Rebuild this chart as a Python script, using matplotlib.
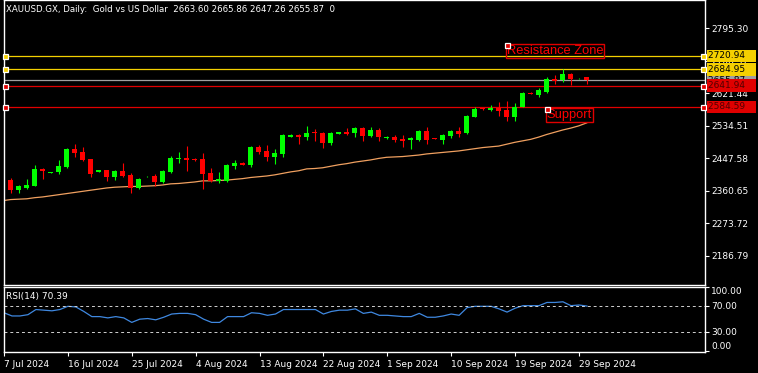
import matplotlib.pyplot as plt
import numpy as np

# daily bars, 7 Jul 2024 .. 30 Sep 2024 (Sunday bars included)
opens = [2387, 2389, 2363, 2369, 2374, 2419, 2409, 2411, 2425, 2472,
         2463, 2446, 2410, 2416, 2398, 2413, 2403, 2367, 2399, 2400,
         2384, 2411, 2445, 2449, 2446, 2445, 2409, 2387, 2387, 2427,
         2436, 2430, 2478, 2467, 2452, 2460, 2505, 2510, 2505, 2517,
         2516, 2489, 2513, 2518, 2516, 2528, 2507, 2523, 2502, 2505,
         2500, 2496, 2496, 2520, 2501, 2496, 2507, 2521, 2514, 2559,
         2581, 2577, 2583, 2577, 2557, 2585, 2623, 2617, 2625, 2659,
         2657, 2673, 2661, 2663.60]
highs = [2392, 2395, 2376, 2391, 2429, 2421, 2412, 2443, 2474, 2486,
         2477, 2446, 2416, 2416, 2416, 2436, 2407, 2395, 2401, 2406,
         2416, 2453, 2463, 2480, 2448, 2462, 2421, 2412, 2432, 2443,
         2437, 2480, 2482, 2483, 2471, 2512, 2511, 2512, 2534, 2525,
         2518, 2518, 2518, 2529, 2532, 2530, 2530, 2528, 2506, 2510,
         2510, 2503, 2523, 2532, 2502, 2512, 2523, 2532, 2562, 2585,
         2582, 2589, 2599, 2600, 2594, 2625, 2624, 2636, 2665, 2670,
         2685, 2675, 2663, 2665.86]
lows = [2385, 2354, 2354, 2364, 2374, 2393, 2409, 2405, 2422, 2452,
        2441, 2396, 2410, 2387, 2390, 2398, 2355, 2364, 2398, 2373,
        2380, 2407, 2434, 2413, 2441, 2366, 2384, 2382, 2385, 2419,
        2429, 2425, 2458, 2441, 2432, 2452, 2504, 2486, 2496, 2494,
        2474, 2484, 2512, 2509, 2505, 2494, 2505, 2494, 2500, 2491,
        2477, 2473, 2494, 2486, 2498, 2486, 2501, 2503, 2512, 2557,
        2577, 2575, 2560, 2548, 2548, 2584, 2618, 2612, 2623, 2646,
        2652, 2643, 2660, 2647.26]
closes = [2391, 2363, 2372, 2376, 2418, 2414, 2412, 2427, 2472, 2461,
          2443, 2405, 2416, 2398, 2413, 2401, 2367, 2392, 2400, 2383,
          2413, 2449, 2447, 2443, 2443, 2405, 2387, 2391, 2430, 2436,
          2430, 2478, 2464, 2452, 2462, 2510, 2510, 2505, 2516, 2514,
          2489, 2516, 2518, 2513, 2528, 2507, 2523, 2505, 2505, 2496,
          2494, 2501, 2520, 2496, 2498, 2510, 2520, 2512, 2560, 2578,
          2578, 2581, 2574, 2557, 2585, 2621, 2619, 2630, 2659, 2653,
          2673, 2659, 2662, 2655.87]
ma = [2334, 2337, 2338, 2339, 2342, 2344, 2347, 2350, 2353, 2356,
      2359, 2362, 2365, 2368, 2370, 2371, 2372, 2372, 2373, 2374,
      2376, 2379, 2380, 2382, 2384, 2387, 2387, 2388, 2389, 2391,
      2393, 2396, 2398, 2400, 2403, 2407, 2411, 2414, 2419, 2420,
      2422, 2426, 2430, 2433, 2437, 2440, 2443, 2447, 2450, 2451,
      2452, 2454, 2456, 2459, 2461, 2463, 2465, 2467, 2470, 2473,
      2476, 2478, 2480, 2485, 2490, 2494, 2498, 2504, 2511, 2517,
      2523, 2528, 2534, 2542]
rsi = [60, 55, 55, 57, 65, 64, 63, 65, 70, 69,
       62, 54, 54, 52, 54, 52, 45, 50, 51, 49,
       53, 58, 59, 59, 57, 50, 45, 45, 54, 54,
       54, 60, 59, 56, 58, 65, 65, 65, 65, 65,
       58, 62, 64, 64, 66, 59, 61, 56, 56, 55,
       54, 54, 59, 53, 53, 55, 58, 56, 68, 70,
       70, 70, 66, 61, 67, 71, 71, 71, 76, 76,
       77, 71, 72, 70.39]

date_labels = ['7 Jul 2024', '16 Jul 2024', '25 Jul 2024', '4 Aug 2024', '13 Aug 2024',
               '22 Aug 2024', '1 Sep 2024', '10 Sep 2024', '19 Sep 2024', '29 Sep 2024']
price_ticks = [2186.79, 2273.72, 2360.65, 2447.58, 2534.51, 2621.44, 2708.37, 2795.30]
rsi_ticks = [0, 30, 70, 100]

resistance = [2720.94, 2684.95]
support = [2641.94, 2584.59]
bid = 2655.87

GREEN = '#00ff00'
RED = '#ff0000'
LINE_RED = '#e00000'
YELLOW = '#f5d000'
FS = 6.5

W, H = 758, 373
fig = plt.figure(figsize=(W / 100, H / 100), dpi=100, facecolor='black')


def add_px_axes(x0, y0, x1, y1):
    a = fig.add_axes([x0 / W, 1 - y1 / H, (x1 - x0) / W, (y1 - y0) / H])
    a.set_facecolor('black')
    for s in a.spines.values():
        s.set_color('white')
        s.set_linewidth(1)
    return a


ax = add_px_axes(4, 0, 705, 285)
rx = add_px_axes(4, 287, 705, 352)

x = np.arange(len(opens))
o = np.array(opens)
c = np.array(closes)
cols = [GREEN if cc >= oo else RED for oo, cc in zip(o, c)]

xmin = 0.1625
xmax = xmin + 701 / 8

# candles
ax.vlines(x, lows, highs, colors=cols, lw=0.8, zorder=2)
body_h = np.maximum(np.abs(c - o), 1.2)
ax.bar(x, body_h, bottom=np.minimum(o, c), width=0.62, color=cols, linewidth=0, zorder=2)
ax.plot(x, ma, color='#f0a060', lw=0.9, zorder=1.5)

# horizontal lines
ytr = ax.get_yaxis_transform()
for v in resistance:
    ax.axhline(v, color=YELLOW, lw=0.9, zorder=1)
for v in support:
    ax.axhline(v, color=LINE_RED, lw=0.9, zorder=1)
ax.axhline(bid, color='#a0a0a0', lw=0.9, zorder=1)

for v, col in zip(resistance + support, [YELLOW] * 2 + [LINE_RED] * 2):
    ax.plot([0.0015, 0.9967], [v, v], transform=ytr, ls='none', marker='s', ms=3.6,
            mfc=col, mec='white', mew=0.9, clip_on=False, zorder=6)

# price boxes on the right scale
boxes = [(bid, '#a0a0a0', 'black')] + [(v, YELLOW, 'black') for v in resistance] + \
        [(v, LINE_RED, '#500000') for v in support]
for v, bg, fg in boxes:
    ax.annotate('%.2f   ' % v, xy=(1, v), xycoords=ytr, xytext=(2.5, 0), textcoords='offset points',
                ha='left', va='center', fontsize=FS, color=fg, annotation_clip=False, zorder=7,
                bbox=dict(boxstyle='square,pad=0.2', fc=bg, ec='none'))

# text objects
ax.text(63, 2750, 'Resistance Zone', color=RED, fontsize=9.3, family='Liberation Sans',
        ha='left', va='top', zorder=5,
        bbox=dict(boxstyle='square,pad=0.08', fc='none', ec=LINE_RED, lw=1))
ax.plot([63], [2750], ls='none', marker='s', ms=3.6, mfc=LINE_RED, mec='white', mew=0.9, zorder=6)
ax.text(68, 2578, 'Support', color=RED, fontsize=9.3, family='Liberation Sans',
        ha='left', va='top', zorder=5,
        bbox=dict(boxstyle='square,pad=0.08', fc='none', ec=LINE_RED, lw=1))
ax.plot([68], [2578], ls='none', marker='s', ms=3.6, mfc=LINE_RED, mec='white', mew=0.9, zorder=6)

ax.text(0.003, 1 - 9 / 285, 'XAUUSD.GX, Daily:  Gold vs US Dollar  2663.60 2665.86 2647.26 2655.87  0',
        transform=ax.transAxes, color='white', fontsize=6.2, va='center', ha='left')

ax.set_xlim(xmin, xmax)
ax.set_ylim(2108.5, 2870.6)
ax.set_xticks([])
ax.yaxis.tick_right()
ax.set_yticks(price_ticks)
ax.set_yticklabels(['%.2f' % t for t in price_ticks])
ax.tick_params(axis='y', colors='white', labelsize=FS, length=3, width=0.8, pad=1.5)

# RSI panel
rx.plot(x, rsi, color='#3f88e0', lw=0.9)
for lvl in [70, 30]:
    rx.axhline(lvl, color='#d0d0d0', lw=0.7, ls=(0, (3, 3)))
rx.set_xlim(xmin, xmax)
rx.set_ylim(-1, 99)
rx.yaxis.tick_right()
rx.set_yticks(rsi_ticks)
rx.set_yticklabels(['%.2f' % t for t in rsi_ticks])
rx.tick_params(axis='y', colors='white', labelsize=FS, length=3, width=0.8, pad=1.5)
for lab, va in zip(rx.get_yticklabels(), ['bottom', 'center', 'center', 'top']):
    lab.set_va(va)
rx.set_xticks(range(0, 73, 8))
rx.set_xticklabels(date_labels, ha='left')
rx.tick_params(axis='x', colors='white', labelsize=FS, length=3, width=0.8, pad=3)
rx.text(0.003, 0.86, 'RSI(14) 70.39', transform=rx.transAxes, color='white', fontsize=FS,
        ha='left', va='center')

fig.savefig('out.png', dpi=100, facecolor='black')
